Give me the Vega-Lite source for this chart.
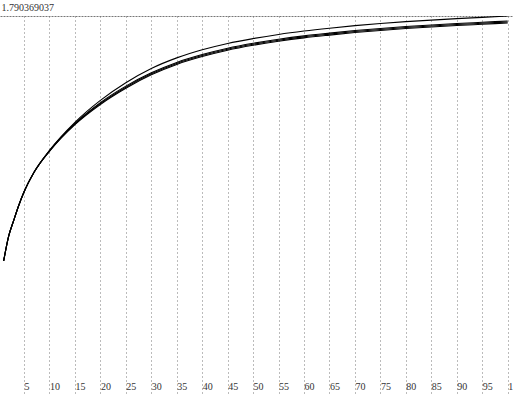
{
  "$schema": "https://vega.github.io/schema/vega-lite/v6.json",
  "width": 513,
  "height": 380,
  "autosize": "none",
  "padding": {"top": 16, "left": 0, "right": 0, "bottom": 0},
  "background": "white",
  "config": {"view": {"stroke": null}},
  "datasets": {
    "curves": [
      {"x": 1, "s": "A", "y": 0.636}, {"x": 2, "s": "A", "y": 0.754}, {"x": 3, "s": "A", "y": 0.829}, {"x": 4, "s": "A", "y": 0.900}, {"x": 5, "s": "A", "y": 0.961}, {"x": 7, "s": "A", "y": 1.055}, {"x": 10, "s": "A", "y": 1.157}, {"x": 15, "s": "A", "y": 1.2895}, {"x": 20, "s": "A", "y": 1.393}, {"x": 25, "s": "A", "y": 1.476}, {"x": 30, "s": "A", "y": 1.543}, {"x": 35, "s": "A", "y": 1.593}, {"x": 40, "s": "A", "y": 1.631}, {"x": 45, "s": "A", "y": 1.661}, {"x": 50, "s": "A", "y": 1.684}, {"x": 55, "s": "A", "y": 1.7035}, {"x": 60, "s": "A", "y": 1.7195}, {"x": 65, "s": "A", "y": 1.733}, {"x": 70, "s": "A", "y": 1.745}, {"x": 75, "s": "A", "y": 1.755}, {"x": 80, "s": "A", "y": 1.764}, {"x": 85, "s": "A", "y": 1.771}, {"x": 90, "s": "A", "y": 1.778}, {"x": 95, "s": "A", "y": 1.784}, {"x": 100, "s": "A", "y": 1.790369037},
      {"x": 1, "s": "B", "y": 0.636}, {"x": 2, "s": "B", "y": 0.754}, {"x": 3, "s": "B", "y": 0.829}, {"x": 4, "s": "B", "y": 0.900}, {"x": 5, "s": "B", "y": 0.961}, {"x": 7, "s": "B", "y": 1.055}, {"x": 10, "s": "B", "y": 1.1555}, {"x": 15, "s": "B", "y": 1.2845}, {"x": 20, "s": "B", "y": 1.3825}, {"x": 25, "s": "B", "y": 1.460}, {"x": 30, "s": "B", "y": 1.5227}, {"x": 35, "s": "B", "y": 1.5717}, {"x": 40, "s": "B", "y": 1.6087}, {"x": 45, "s": "B", "y": 1.6387}, {"x": 50, "s": "B", "y": 1.6617}, {"x": 55, "s": "B", "y": 1.6807}, {"x": 60, "s": "B", "y": 1.6967}, {"x": 65, "s": "B", "y": 1.7097}, {"x": 70, "s": "B", "y": 1.7217}, {"x": 75, "s": "B", "y": 1.7317}, {"x": 80, "s": "B", "y": 1.7407}, {"x": 85, "s": "B", "y": 1.7477}, {"x": 90, "s": "B", "y": 1.7547}, {"x": 95, "s": "B", "y": 1.7607}, {"x": 100, "s": "B", "y": 1.7667},
      {"x": 1, "s": "C", "y": 0.636}, {"x": 2, "s": "C", "y": 0.754}, {"x": 3, "s": "C", "y": 0.829}, {"x": 4, "s": "C", "y": 0.900}, {"x": 5, "s": "C", "y": 0.961}, {"x": 7, "s": "C", "y": 1.055}, {"x": 10, "s": "C", "y": 1.154}, {"x": 15, "s": "C", "y": 1.2815}, {"x": 20, "s": "C", "y": 1.378}, {"x": 25, "s": "C", "y": 1.455}, {"x": 30, "s": "C", "y": 1.518}, {"x": 35, "s": "C", "y": 1.567}, {"x": 40, "s": "C", "y": 1.604}, {"x": 45, "s": "C", "y": 1.634}, {"x": 50, "s": "C", "y": 1.657}, {"x": 55, "s": "C", "y": 1.676}, {"x": 60, "s": "C", "y": 1.692}, {"x": 65, "s": "C", "y": 1.705}, {"x": 70, "s": "C", "y": 1.717}, {"x": 75, "s": "C", "y": 1.727}, {"x": 80, "s": "C", "y": 1.736}, {"x": 85, "s": "C", "y": 1.743}, {"x": 90, "s": "C", "y": 1.750}, {"x": 95, "s": "C", "y": 1.756}, {"x": 100, "s": "C", "y": 1.762},
      {"x": 1, "s": "D", "y": 0.636}, {"x": 2, "s": "D", "y": 0.754}, {"x": 3, "s": "D", "y": 0.829}, {"x": 4, "s": "D", "y": 0.900}, {"x": 5, "s": "D", "y": 0.961}, {"x": 7, "s": "D", "y": 1.055}, {"x": 10, "s": "D", "y": 1.1525}, {"x": 15, "s": "D", "y": 1.2785}, {"x": 20, "s": "D", "y": 1.3735}, {"x": 25, "s": "D", "y": 1.450}, {"x": 30, "s": "D", "y": 1.5133}, {"x": 35, "s": "D", "y": 1.5623}, {"x": 40, "s": "D", "y": 1.5993}, {"x": 45, "s": "D", "y": 1.6293}, {"x": 50, "s": "D", "y": 1.6523}, {"x": 55, "s": "D", "y": 1.6713}, {"x": 60, "s": "D", "y": 1.6873}, {"x": 65, "s": "D", "y": 1.7003}, {"x": 70, "s": "D", "y": 1.7123}, {"x": 75, "s": "D", "y": 1.7223}, {"x": 80, "s": "D", "y": 1.7313}, {"x": 85, "s": "D", "y": 1.7383}, {"x": 90, "s": "D", "y": 1.7453}, {"x": 95, "s": "D", "y": 1.7513}, {"x": 100, "s": "D", "y": 1.7573}
    ]
  },
  "data": {"name": "curves"},
  "mark": {"type": "line", "interpolate": "monotone", "strokeWidth": 1.1, "color": "black", "clip": true},
  "encoding": {
    "x": {
      "field": "x", "type": "quantitative",
      "scale": {"domain": [0.286, 101.04], "nice": false, "zero": false},
      "axis": {
        "title": null, "values": [5,10,15,20,25,30,35,40,45,50,55,60,65,70,75,80,85,90,95,100],
        "domain": false, "ticks": false,
        "grid": true, "gridColor": "#777", "gridDash": [1, 3], "gridWidth": 1,
        "labelAlign": "left", "labelBaseline": "bottom", "labelPadding": -5,
        "labelFlush": false, "labelOverlap": false, "labelBound": false,
        "labelFont": "Liberation Serif", "labelFontSize": 10, "labelColor": "#333"
      }
    },
    "y": {
      "field": "y", "type": "quantitative",
      "scale": {"domain": [0, 1.790369037], "nice": false, "zero": false},
      "axis": {
        "title": null, "values": [1.790369037], "format": ".9f",
        "domain": false, "ticks": false,
        "grid": true, "gridColor": "#777", "gridDash": [2, 1], "gridWidth": 1,
        "labelAlign": "left", "labelBaseline": "bottom", "labelPadding": -1, "labelOffset": -4,
        "labelFlush": false, "labelOverlap": false, "labelBound": false,
        "labelFont": "Liberation Serif", "labelFontSize": 10, "labelColor": "#333"
      }
    },
    "detail": {"field": "s", "type": "nominal"}
  }
}
